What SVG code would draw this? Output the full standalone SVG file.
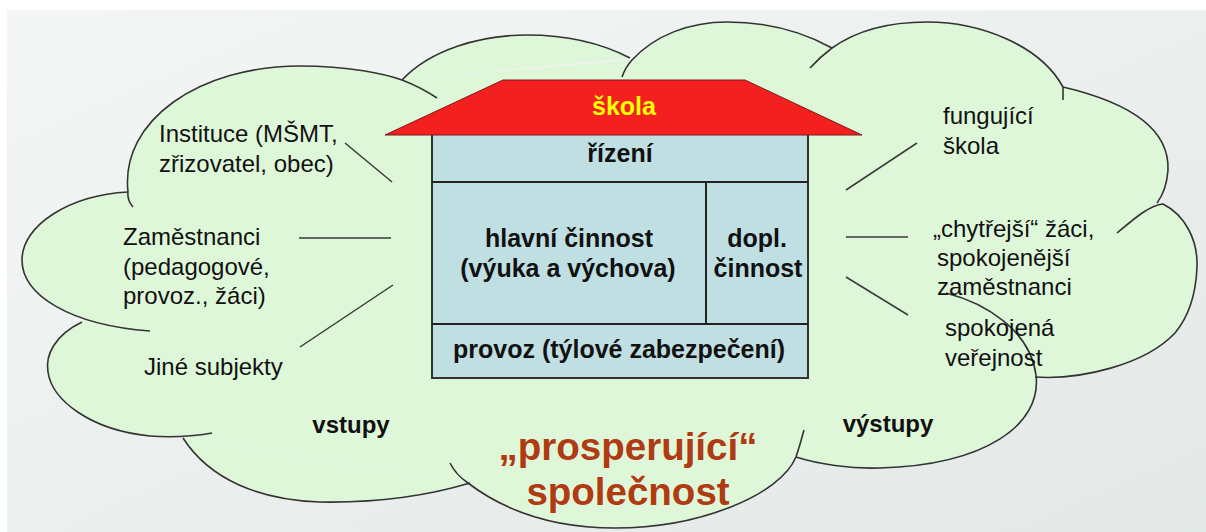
<svg xmlns="http://www.w3.org/2000/svg" xmlns:xlink="http://www.w3.org/1999/xlink" width="1206" height="532" viewBox="0 0 1206 532">
<defs>
<linearGradient id="bg" x1="0" y1="0" x2="1" y2="1">
<stop offset="0" stop-color="#f3f6f5"/>
<stop offset="1" stop-color="#e3e9e7"/>
</linearGradient>
<path id="lA" d="M128,192 C70,195 22,225 22,260 C22,295 70,325 150,331"/>
<path id="lB" d="M82,322 C55,335 45,355 48,372 C52,400 90,430 150,436 C175,438 195,436 212,433"/>
<path id="lC" d="M183,438 C210,480 260,500 320,502 C380,503 430,495 470,483"/>
<path id="lD" d="M450,463 Q456,475 468,483 C510,515 560,528 615,528 C700,528 780,495 796,457 Q800,445 804,430"/>
<path id="lE" d="M946,293 C985,303 1030,330 1036,375 C1042,425 985,465 880,468 C850,469 818,464 796,457"/>
<path id="lF" d="M1117,233 C1135,218 1150,205 1163,204 C1185,215 1198,240 1197,267 C1196,292 1190,315 1175,333 C1145,365 1080,380 1035,377"/>
<path id="lG" d="M1063,100 L1063,87 C1110,98 1170,120 1168,170 C1167,185 1163,195 1157,203"/>
<path id="lH" d="M810,68 Q820,57 832,48 C860,28 895,22 927,22 C980,22 1040,45 1063,87"/>
<path id="lI" d="M622,77 Q625,68 632,60 C655,35 690,22 727,22 C770,22 805,33 832,48"/>
<path id="lJ" d="M402,80 C430,50 480,35 527,35 C570,35 605,45 630,58"/>
<path id="lK" d="M133,207 Q127,200 128,192 C120,120 200,66 300,66 C350,66 385,74 402,80 C415,85 428,92 437,98"/>
</defs>
<style>
.lobe-fill{fill:#dff7d9;stroke:none}
.lobe-line{fill:none;stroke:#333;stroke-width:1.6}
.conn{stroke:#3a3a3a;stroke-width:1.5;fill:none}
.t{font-family:"Liberation Sans",Arial,sans-serif;font-size:24px;fill:#111}
.b{font-family:"Liberation Sans",Arial,sans-serif;font-weight:bold;font-size:25px;fill:#111}
.body{fill:#bfdfe2;stroke:#333;stroke-width:2}
.div{stroke:#222;stroke-width:2}
</style>
<rect x="0" y="0" width="1206" height="532" fill="#ffffff"/>
<rect x="7" y="10" width="1199" height="522" fill="url(#bg)"/>
<g id="cloud">
<polygon class="lobe-fill" points="128,192 402,80 632,60 832,48 1063,87 1157,203 1035,377 796,457 468,483 183,438 82,322"/>
<use xlink:href="#lA" class="lobe-fill"/><use xlink:href="#lB" class="lobe-fill"/><use xlink:href="#lC" class="lobe-fill"/>
<use xlink:href="#lD" class="lobe-fill"/><use xlink:href="#lE" class="lobe-fill"/><use xlink:href="#lF" class="lobe-fill"/>
<use xlink:href="#lG" class="lobe-fill"/><use xlink:href="#lH" class="lobe-fill"/><use xlink:href="#lI" class="lobe-fill"/>
<use xlink:href="#lJ" class="lobe-fill"/><use xlink:href="#lK" class="lobe-fill"/>
<use xlink:href="#lA" class="lobe-line"/><use xlink:href="#lB" class="lobe-line"/><use xlink:href="#lC" class="lobe-line"/>
<use xlink:href="#lD" class="lobe-line"/><use xlink:href="#lE" class="lobe-line"/><use xlink:href="#lF" class="lobe-line"/>
<use xlink:href="#lG" class="lobe-line"/><use xlink:href="#lH" class="lobe-line"/><use xlink:href="#lI" class="lobe-line"/>
<use xlink:href="#lJ" class="lobe-line"/><use xlink:href="#lK" class="lobe-line"/>
</g>
<g id="connectors">
<line class="conn" x1="345" y1="143" x2="392" y2="182"/>
<line class="conn" x1="299" y1="238" x2="391" y2="238"/>
<line class="conn" x1="300" y1="347" x2="393" y2="285"/>
<line class="conn" x1="846" y1="190" x2="917" y2="143"/>
<line class="conn" x1="846" y1="237" x2="908" y2="237"/>
<line class="conn" x1="846" y1="277" x2="908" y2="315"/>
</g>
<g id="house">
<rect class="body" x="432" y="128" width="376" height="250"/>
<line class="div" x1="432" y1="182" x2="808" y2="182"/>
<line class="div" x1="432" y1="324" x2="808" y2="324"/>
<line class="div" x1="706" y1="182" x2="706" y2="324"/>
<polygon points="503,80 745,80 862,135 385,135" fill="#f42020" stroke="#7a1a1a" stroke-width="1"/>
<text class="b" x="624" y="115" text-anchor="middle" fill="#ffff00" style="fill:#ffff00">škola</text>
<text class="b" x="620" y="162" text-anchor="middle">řízení</text>
<text class="b" x="569" y="247" text-anchor="middle">hlavní činnost</text>
<text class="b" x="568" y="277" text-anchor="middle">(výuka a výchova)</text>
<text class="b" x="757" y="247" text-anchor="middle">dopl.</text>
<text class="b" x="758" y="277" text-anchor="middle">činnost</text>
<text class="b" x="619" y="358" text-anchor="middle">provoz (týlové zabezpečení)</text>
</g>
<g id="inputs">
<text class="t" x="159" y="142">Instituce (MŠMT,</text>
<text class="t" x="159" y="172">zřizovatel, obec)</text>
<text class="t" x="123" y="245">Zaměstnanci</text>
<text class="t" x="123" y="275">(pedagogové,</text>
<text class="t" x="123" y="304">provoz., žáci)</text>
<text class="t" x="144" y="375">Jiné subjekty</text>
<text class="b" x="351" y="433" text-anchor="middle" style="font-size:24px">vstupy</text>
</g>
<g id="outputs">
<text class="t" x="943" y="124">fungující</text>
<text class="t" x="943" y="154">škola</text>
<text class="t" x="933" y="237">„chytřejší“ žáci,</text>
<text class="t" x="937" y="266">spokojenější</text>
<text class="t" x="937" y="295">zaměstnanci</text>
<text class="t" x="945" y="336">spokojená</text>
<text class="t" x="945" y="366">veřejnost</text>
<text class="b" x="888" y="432" text-anchor="middle" style="font-size:24px">výstupy</text>
</g>
<g id="society">
<text class="b" x="628" y="460" text-anchor="middle" style="font-size:38.5px;fill:#b03a12">„prosperující“</text>
<text class="b" x="628" y="505" text-anchor="middle" style="font-size:38.5px;fill:#b03a12">společnost</text>
</g>
</svg>
